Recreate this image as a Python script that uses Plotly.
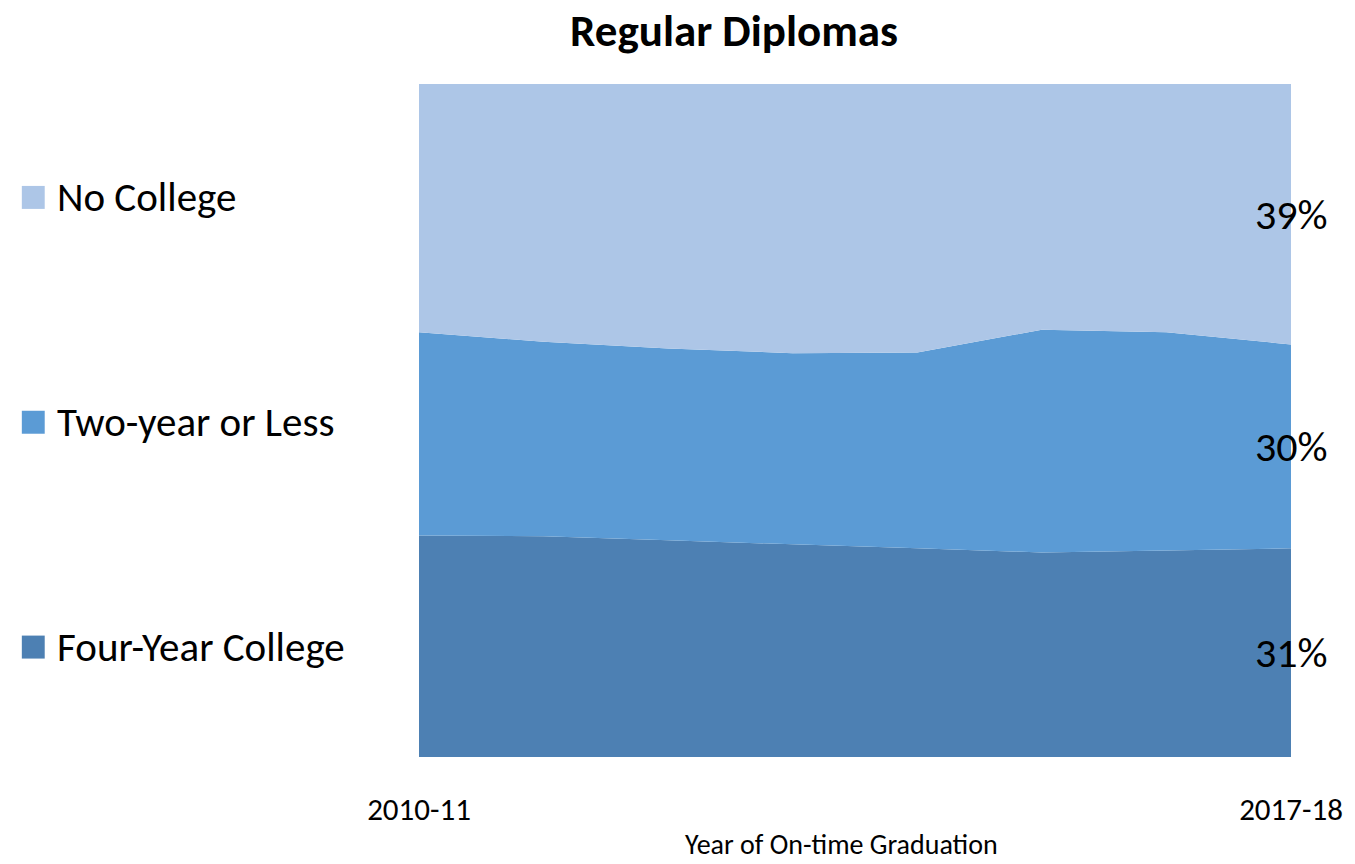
import plotly.graph_objects as go

years = ["2010-11", "2011-12", "2012-13", "2013-14", "2014-15", "2015-16", "2016-17", "2017-18"]
four_year = [32.9, 32.8, 32.2, 31.6, 31.0, 30.4, 30.7, 31.0]
two_year = [30.2, 28.9, 28.5, 28.4, 29.1, 33.1, 32.4, 30.3]
no_college = [36.9, 38.3, 39.3, 40.0, 39.9, 36.5, 36.9, 38.7]

series_names = ["Four-Year College", "Two-year or Less", "No College"]
series_values = [four_year, two_year, no_college]
series_colors = ["#4d80b3", "#5b9bd5", "#adc6e7"]

FONT = "Carlito, Calibri, Lato, sans-serif"

W, H = 1355, 864
PL, PR, PT, PB = 419, 1295, 83.5, 757  # plot area in pixels


def px_x(x):
    return (x - PL) / (PR - PL)


def px_y(y):
    return (PB - y) / (PB - PT)


fig = go.Figure()
for name, vals, col in zip(series_names, series_values, series_colors):
    fig.add_trace(go.Scatter(
        x=years, y=vals, name=name, mode="none", stackgroup="one",
        fillcolor=col, line=dict(width=0, shape="linear"), showlegend=False,
        hoverinfo="x+y+name",
    ))

annotations = []
# end-of-series labels centred on each band at the last year
cum = 0
for name, vals in zip(series_names, series_values):
    mid = cum + vals[-1] / 2
    cum += vals[-1]
    annotations.append(dict(
        x=years[-1], y=mid, xref="x", yref="y", text=f"{round(vals[-1])}%",
        showarrow=False, xanchor="center", yanchor="middle",
        font=dict(family=FONT, size=42, color="#000000"),
    ))

# legend (left side): squares + labels
legend_y_px = [197, 422, 647]
legend_order = list(zip(series_names, series_colors))[::-1]
shapes = []
for (name, col), ypx in zip(legend_order, legend_y_px):
    shapes.append(dict(type="rect", xref="paper", yref="paper",
                       x0=px_x(20), x1=px_x(43),
                       y0=px_y(ypx + 11.5), y1=px_y(ypx - 11.5),
                       fillcolor=col, line=dict(width=0)))
    annotations.append(dict(
        x=px_x(53), y=px_y(ypx), xref="paper", yref="paper", text=name,
        showarrow=False, xanchor="left", yanchor="middle",
        font=dict(family=FONT, size=41, color="#000000"),
    ))

# x-axis title
annotations.append(dict(
    x=px_x(843), y=px_y(845), xref="paper", yref="paper",
    text="Year of On-time Graduation", showarrow=False,
    xanchor="center", yanchor="middle",
    font=dict(family=FONT, size=28, color="#000000"),
))

fig.update_layout(
    width=W, height=H,
    margin=dict(l=PL, r=W - PR, t=PT, b=H - PB, pad=0),
    paper_bgcolor="white", plot_bgcolor="white",
    title=dict(text="<b>Regular Diplomas</b>", x=734 / W, xref="container",
               xanchor="center", y=1 - 30 / H, yref="container", yanchor="middle",
               font=dict(family=FONT, size=45, color="#000000")),
    xaxis=dict(type="category", range=[0, len(years) - 1], showgrid=False,
               zeroline=False, showline=False, ticks="",
               tickvals=[years[0], years[-1]], ticktext=[years[0], years[-1]],
               tickfont=dict(family=FONT, size=31, color="#000000"), ticklabelstandoff=31),
    yaxis=dict(range=[0, 100], visible=False, showgrid=False, zeroline=False),
    showlegend=False,
    annotations=annotations,
    shapes=shapes,
)

fig.write_html("out.html")
